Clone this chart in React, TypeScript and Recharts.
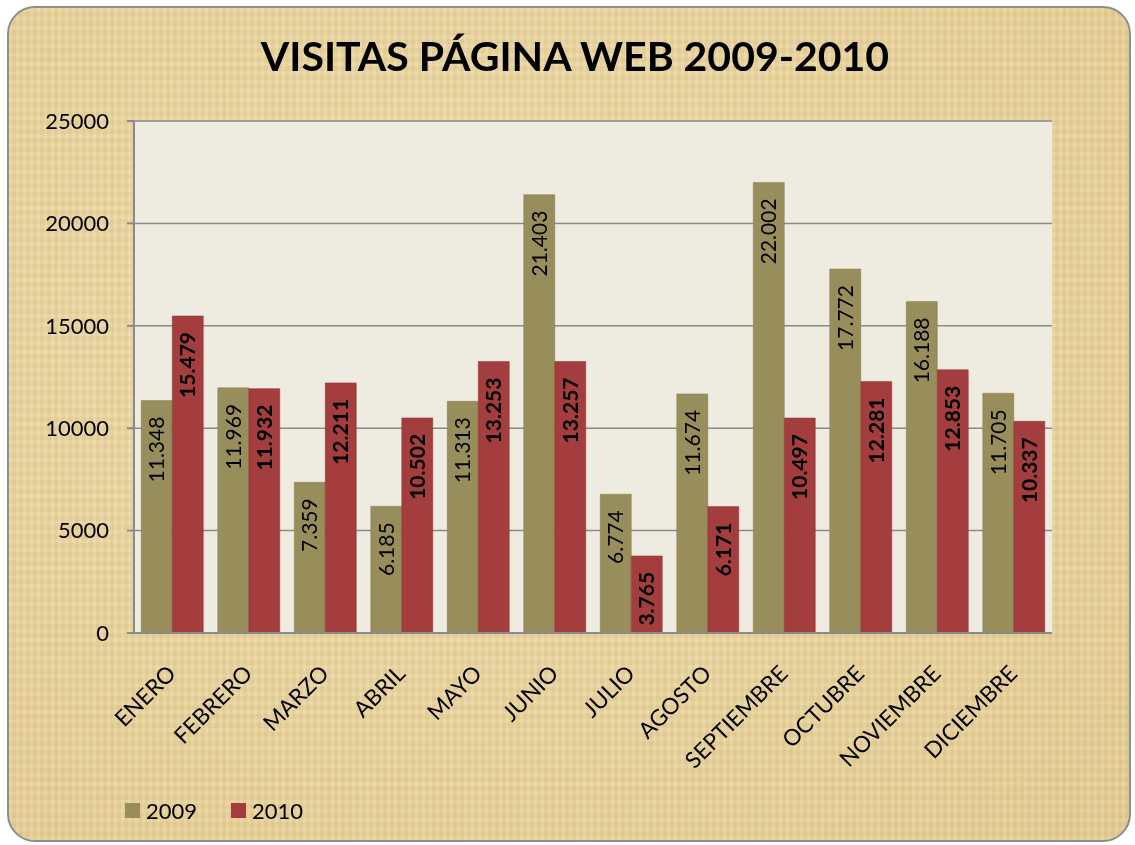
import React from "react";
import {
  BarChart,
  Bar,
  XAxis,
  YAxis,
  CartesianGrid,
  LabelList,
  Legend,
} from "recharts";

const MONTHS = [
  "ENERO", "FEBRERO", "MARZO", "ABRIL", "MAYO", "JUNIO",
  "JULIO", "AGOSTO", "SEPTIEMBRE", "OCTUBRE", "NOVIEMBRE", "DICIEMBRE",
];
const VISITS_2009 = [11348, 11969, 7359, 6185, 11313, 21403, 6774, 11674, 22002, 17772, 16188, 11705];
const VISITS_2010 = [15479, 11932, 12211, 10502, 13253, 13257, 3765, 6171, 10497, 12281, 12853, 10337];
const Y_TICKS = [0, 5000, 10000, 15000, 20000, 25000];

const COLOR_2009 = "#978E5B";
const COLOR_2010 = "#A43D3D";
const FONT = "Lato, 'Open Sans', sans-serif";

const data = MONTHS.map((m, i) => ({ month: m, y2009: VISITS_2009[i], y2010: VISITS_2010[i] }));
const boundaryTicks = [...MONTHS.map((_, i) => i), MONTHS.length];

function fmt(n: number) {
  return String(n).replace(/\B(?=(\d{3})+(?!\d))/g, ".");
}

const makeBarLabel = (bold: boolean) => (props: any) => {
  const { x, y, width, value } = props;
  const cx = x + width / 2;
  const ty = y + 16;
  return (
    <text
      x={cx}
      y={ty}
      transform={`rotate(-90, ${cx}, ${ty})`}
      textAnchor="end"
      dy="0.36em"
      fontFamily={FONT}
      fontSize={21}
      fontWeight={bold ? 700 : 400}
      fill="#000"
    >
      {fmt(value)}
    </text>
  );
};

const MonthTick = (props: any) => {
  const { x, y, payload } = props;
  const ax = x + 5;
  const ay = y + 24;
  return (
    <text
      x={ax}
      y={ay}
      transform={`rotate(-45, ${ax}, ${ay})`}
      textAnchor="end"
      fontFamily={FONT}
      fontSize={22.5}
      fill="#000"
    >
      {payload.value}
    </text>
  );
};

const LegendContent = () => (
  <div style={{ display: "flex", alignItems: "center", fontFamily: FONT, fontSize: 22, color: "#000" }}>
    {[
      { name: "2009", color: COLOR_2009 },
      { name: "2010", color: COLOR_2010 },
    ].map((it) => (
      <div key={it.name} style={{ display: "flex", alignItems: "center", marginRight: 34 }}>
        <span style={{ width: 15, height: 15, background: it.color, display: "inline-block", marginRight: 6 }} />
        <span>{it.name}</span>
      </div>
    ))}
  </div>
);

export default function App() {
  return (
    <div style={{ position: "fixed", left: 0, top: 0, width: 1135, height: 845 }}>
      <div
        style={{
          position: "absolute",
          left: 7,
          top: 6,
          width: 1124,
          height: 836,
          boxSizing: "border-box",
          border: "2px solid #8e8e8e",
          borderRadius: 28,
          background:
            "repeating-linear-gradient(90deg, rgba(255,255,255,0.07) 0 3px, rgba(160,120,40,0.05) 3px 7px), repeating-linear-gradient(0deg, rgba(255,255,255,0.06) 0 4px, rgba(160,120,40,0.05) 4px 9px), radial-gradient(ellipse at 40% 40%, #EEDCAA 0%, #E8D39D 60%, #E4CC93 100%)",
        }}
      />
      <div
        style={{
          position: "absolute",
          left: 0,
          width: 1150,
          top: 31,
          textAlign: "center",
          fontFamily: FONT,
          fontWeight: 700,
          fontSize: 41,
          color: "#000",
          lineHeight: "50px",
        }}
      >
        VISITAS PÁGINA WEB 2009-2010
      </div>
      <div style={{ position: "absolute", left: 0, top: 0 }}>
        <BarChart
          width={1135}
          height={845}
          data={data}
          margin={{ top: 121, right: 83, left: 0, bottom: 0 }}
          barCategoryGap="9.5%"
          barGap={0}
        >
          <CartesianGrid
            xAxisId="cat"
            vertical={false}
            fill="#EEEBE0"
            stroke="#8a8a8a"
            strokeWidth={1.5}
          />
          <XAxis
            xAxisId="b"
            type="number"
            domain={[0, MONTHS.length]}
            ticks={boundaryTicks}
            allowDataOverflow
            tick={false}
            tickSize={8}
            height={10}
            axisLine={{ stroke: "#8a8a8a", strokeWidth: 2 }}
            tickLine={{ stroke: "#8a8a8a", strokeWidth: 2 }}
          />
          <XAxis
            xAxisId="cat"
            dataKey="month"
            interval={0}
            height={202}
            axisLine={false}
            tickLine={false}
            tick={<MonthTick />}
          />
          <YAxis
            width={134}
            domain={[0, 25000]}
            ticks={Y_TICKS}
            tickSize={7}
            tickMargin={18}
            axisLine={{ stroke: "#8a8a8a", strokeWidth: 2 }}
            tickLine={{ stroke: "#8a8a8a", strokeWidth: 2 }}
            tick={{ fontFamily: FONT, fontSize: 22, fill: "#000" }}
          />
          <Bar xAxisId="cat" dataKey="y2009" name="2009" fill={COLOR_2009} stroke="#857c4c" strokeWidth={0.5} isAnimationActive={false}>
            <LabelList dataKey="y2009" content={makeBarLabel(false)} />
          </Bar>
          <Bar xAxisId="cat" dataKey="y2010" name="2010" fill={COLOR_2010} stroke="#8f3333" strokeWidth={0.5} isAnimationActive={false}>
            <LabelList dataKey="y2010" content={makeBarLabel(true)} />
          </Bar>
          <Legend
            layout="horizontal"
            align="center"
            verticalAlign="middle"
            content={<LegendContent />}
            wrapperStyle={{ left: 125, top: 797, width: 300 }}
          />
        </BarChart>
      </div>
    </div>
  );
}
